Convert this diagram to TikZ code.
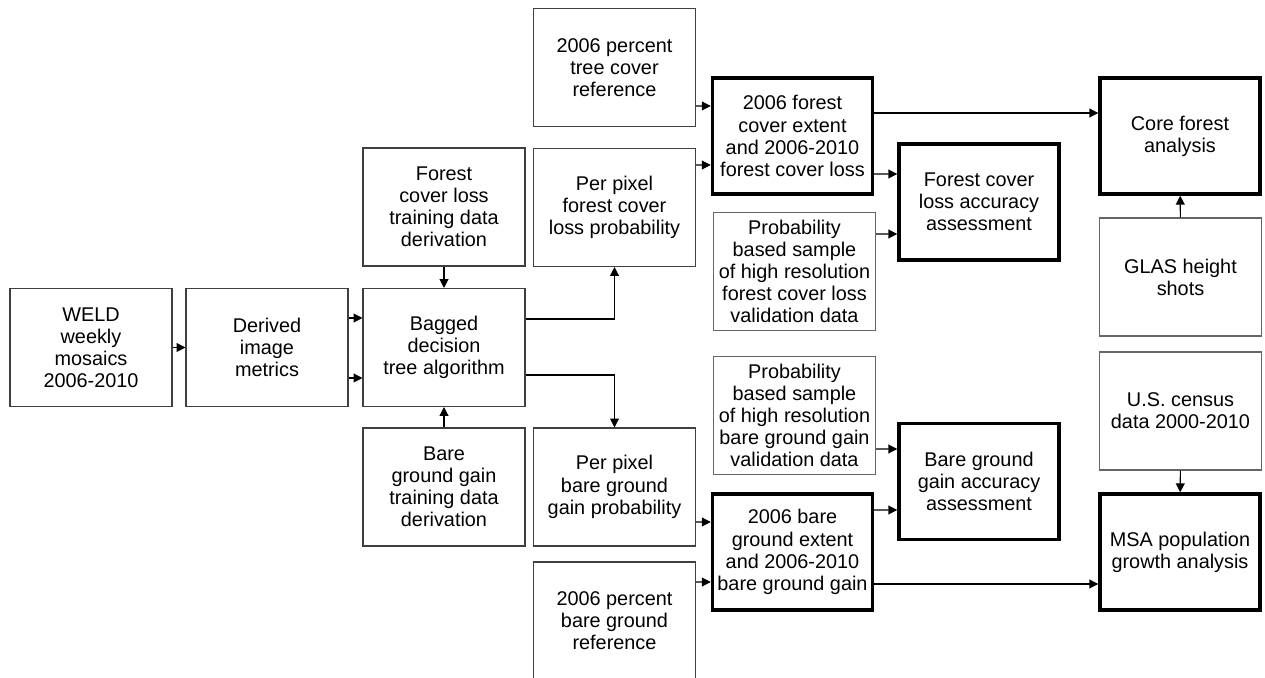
\documentclass[tikz,border=0pt]{standalone}
\usepackage{fontspec}
\setmainfont{Liberation Sans}
\usetikzlibrary{arrows.meta}

\tikzset{
    box/.style={draw=black!75, line width=0.6pt, minimum width=3.24cm, minimum height=2.36cm,
        align=center, inner sep=1pt, font=\fontsize{11.3}{12.6}\selectfont},
    lightbox/.style={box, draw=black!60},
    thickbox/.style={box, draw=black, line width=2pt, minimum width=3.2cm, minimum height=2.32cm},
    arr/.style={line width=0.6pt, -{Triangle[length=5pt,width=5pt]}}
}

\begin{document}
\begin{tikzpicture}[x=0.02cm, y=-0.02cm]
    \useasboundingbox (0,0) rectangle (1265,678);

    % Input e classificazione
    \node[box] (weld) at (91,347.5) {WELD\\weekly\\mosaics\\2006-2010};
    \node[box] (derived) at (267,347.5) {Derived\\image\\metrics};
    \node[box] (bagged) at (444,347.5) {Bagged\\decision\\tree algorithm};
    \node[box] (ftrain) at (444,207) {Forest\\cover loss\\training data\\derivation};
    \node[box] (btrain) at (444,487) {Bare\\ground gain\\training data\\derivation};

    % Probabilita e riferimenti
    \node[box] (ftree) at (614.5,67.5) {2006 percent\\tree cover\\reference};
    \node[box] (fprob) at (614.5,207.5) {Per pixel\\forest cover\\loss probability};
    \node[box] (bprob) at (614.5,487) {Per pixel\\bare ground\\gain probability};
    \node[box] (bref) at (614.5,621) {2006 percent\\bare ground\\reference};

    % Mappe di estensione e validazione
    \node[thickbox] (fext) at (792.5,136) {2006 forest\\cover extent\\and 2006-2010\\forest cover loss};
    \node[lightbox] (fval) at (794.5,271.5) {Probability\\based sample\\of high resolution\\forest cover loss\\validation data};
    \node[lightbox] (bval) at (794.5,415.5) {Probability\\based sample\\of high resolution\\bare ground gain\\validation data};
    \node[thickbox] (bext) at (792.5,552) {2006 bare\\ground extent\\and 2006-2010\\bare ground gain};

    % Accuratezza
    \node[thickbox] (facc) at (979,202) {Forest cover\\loss accuracy\\assessment};
    \node[thickbox] (bacc) at (979,481.5) {Bare ground\\gain accuracy\\assessment};

    % Analisi finali
    \node[thickbox] (core) at (1180,136) {Core forest\\analysis};
    \node[lightbox] (glas) at (1180.5,277) {GLAS height\\shots};
    \node[lightbox] (census) at (1180.5,411) {U.S. census\\data 2000-2010};
    \node[thickbox] (msa) at (1180,552) {MSA population\\growth analysis};

    % Frecce
    \draw[arr] (weld) -- (derived);
    \draw[arr] ([yshift=0.59cm]derived.east) -- ([yshift=0.59cm]bagged.west);
    \draw[arr] ([yshift=-0.61cm]derived.east) -- ([yshift=-0.61cm]bagged.west);
    \draw[arr] (ftrain) -- (bagged);
    \draw[arr] (btrain) -- (bagged);
    \draw[arr] ([yshift=0.57cm]bagged.east) -| (fprob);
    \draw[arr] ([yshift=-0.55cm]bagged.east) -| (bprob);

    \draw[arr] ([yshift=-0.77cm]ftree.east) -- ([yshift=0.6cm]fext.west);
    \draw[arr] ([yshift=0.85cm]fprob.east) -- ([yshift=-0.58cm]fext.west);
    \draw[arr] ([yshift=-0.7cm]bprob.east) -- ([yshift=0.6cm]bext.west);
    \draw[arr] ([yshift=0.78cm]bref.east) -- ([yshift=-0.6cm]bext.west);

    \draw[arr] ([yshift=0.46cm]fext.east) -- ([yshift=0.46cm]core.west);
    \draw[arr] ([yshift=-0.76cm]fext.east) -- ([yshift=0.56cm]facc.west);
    \draw[arr] ([yshift=0.75cm]fval.east) -- ([yshift=-0.64cm]facc.west);
    \draw[arr] ([yshift=-0.67cm]bval.east) -- ([yshift=0.65cm]bacc.west);
    \draw[arr] ([yshift=0.84cm]bext.east) -- ([yshift=-0.57cm]bacc.west);
    \draw[arr] ([yshift=-0.64cm]bext.east) -- ([yshift=-0.64cm]msa.west);

    \draw[arr] (glas) -- (core);
    \draw[arr] (census) -- (msa);
\end{tikzpicture}
\end{document}
